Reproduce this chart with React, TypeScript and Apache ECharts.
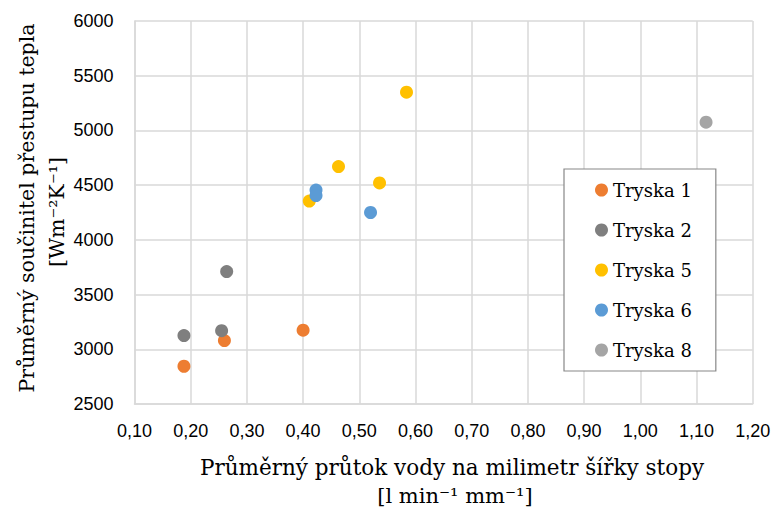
import React, { useEffect, useRef } from "react";
import * as echarts from "echarts";

const seriesNames = ["Tryska 1", "Tryska 2", "Tryska 5", "Tryska 6", "Tryska 8"];
const seriesColors = ["#ED7D31", "#7F7F7F", "#FFC000", "#5B9BD5", "#A5A5A5"];

const tryska1: [number, number][] = [
  [0.188, 2845],
  [0.26, 3080],
  [0.4, 3175],
];
const tryska2: [number, number][] = [
  [0.188, 3125],
  [0.255, 3170],
  [0.264, 3710],
];
const tryska5: [number, number][] = [
  [0.584, 5350],
  [0.463, 4670],
  [0.536, 4520],
  [0.411, 4355],
];
const tryska6: [number, number][] = [
  [0.423, 4455],
  [0.423, 4405],
  [0.52, 4250],
];
const tryska8: [number, number][] = [[1.117, 5075]];

const allData = [tryska1, tryska2, tryska5, tryska6, tryska8];

const xTitle = "Průměrný průtok vody na milimetr šířky stopy";
const xUnit = "[l min⁻¹ mm⁻¹]";
const yTitle = "Průměrný součinitel přestupu tepla";
const yUnit = "[Wm⁻²K⁻¹]";

const X_MIN = 0.1;
const X_MAX = 1.2;
const X_STEP = 0.1;
const Y_MIN = 2500;
const Y_MAX = 6000;
const Y_STEP = 500;

const serif = "'DejaVu Serif', serif";
const sans = "'Liberation Sans', Arial, sans-serif";

export default function App() {
  const ref = useRef<HTMLDivElement>(null);
  useEffect(() => {
    if (!ref.current) return;
    const chart = echarts.init(ref.current, undefined, { renderer: "svg" });
    chart.setOption({
      animation: false,
      backgroundColor: "#fff",
      grid: { left: 134.5, right: 23.3, top: 21, bottom: 107, containLabel: false },
      xAxis: {
        type: "value",
        min: X_MIN,
        max: X_MAX,
        interval: X_STEP,
        axisLine: { show: true, lineStyle: { color: "#D9D9D9", width: 1.5 } },
        axisTick: { show: false },
        splitLine: { show: true, lineStyle: { color: "#D9D9D9", width: 1.5 } },
        axisLabel: {
          margin: 18,
          fontFamily: sans,
          fontSize: 18,
          color: "#000",
          formatter: (v: number) => v.toFixed(2).replace(".", ","),
        },
      },
      yAxis: {
        type: "value",
        min: Y_MIN,
        max: Y_MAX,
        interval: Y_STEP,
        axisLine: { show: true, lineStyle: { color: "#D9D9D9", width: 1.5 } },
        axisTick: { show: false },
        splitLine: { show: true, lineStyle: { color: "#D9D9D9", width: 1.5 } },
        axisLabel: {
          margin: 21,
          fontFamily: sans,
          fontSize: 18,
          color: "#000",
          formatter: (v: number) => String(Math.round(v)),
        },
      },
      legend: {
        orient: "vertical",
        left: 564,
        top: 169,
        padding: [11, 24, 11, 31],
        itemGap: 20,
        itemWidth: 13,
        itemHeight: 13,
        icon: "circle",
        backgroundColor: "#fff",
        borderColor: "#888",
        borderWidth: 1.2,
        textStyle: { fontFamily: serif, fontSize: 18, color: "#000", lineHeight: 20 },
        data: seriesNames,
      },
      series: seriesNames.map((name, i) => ({
        name,
        type: "scatter",
        data: allData[i],
        symbol: "circle",
        symbolSize: 13,
        itemStyle: { color: seriesColors[i], opacity: 1 },
      })),
      graphic: [
        {
          type: "text",
          x: 452,
          y: 467,
          style: {
            text: xTitle,
            fontFamily: serif,
            fontSize: 21.5,
            fill: "#000",
            textAlign: "center",
            textVerticalAlign: "middle",
          },
        },
        {
          type: "text",
          x: 455,
          y: 496,
          style: {
            text: xUnit,
            fontFamily: serif,
            fontSize: 21,
            fill: "#000",
            textAlign: "center",
            textVerticalAlign: "middle",
          },
        },
        {
          type: "text",
          x: 27,
          y: 208,
          rotation: Math.PI / 2,
          style: {
            text: yTitle,
            fontFamily: serif,
            fontSize: 20.5,
            fill: "#000",
            textAlign: "center",
            textVerticalAlign: "middle",
          },
        },
        {
          type: "text",
          x: 57,
          y: 212,
          rotation: Math.PI / 2,
          style: {
            text: yUnit,
            fontFamily: serif,
            fontSize: 20.5,
            fill: "#000",
            textAlign: "center",
            textVerticalAlign: "middle",
          },
        },
      ],
    });
    return () => chart.dispose();
  }, []);
  return (
    <div
      ref={ref}
      style={{ position: "absolute", left: 0, top: 0, width: 776, height: 511 }}
    />
  );
}
